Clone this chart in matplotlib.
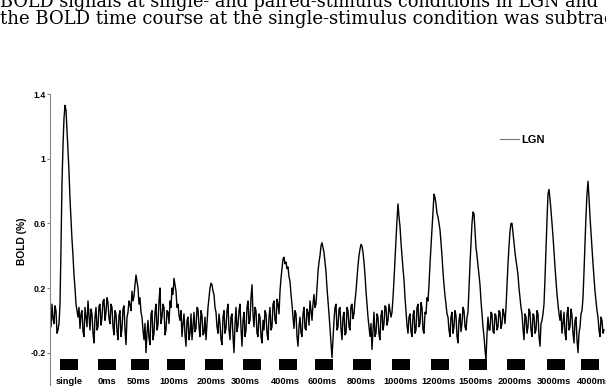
import numpy as np
import matplotlib
matplotlib.use("Agg")
import matplotlib.pyplot as plt

# page text above the figure (cut off in the scan)
line1 = "BOLD signals at single- and paired-stimulus conditions in LGN and"
line2 = "the BOLD time course at the single-stimulus condition was subtract"

# LGN time course, one value per pixel column of the original plot (BOLD %)
bold = [
    # single
    0.05, -0.04, 0.10, 0.01, -0.02, 0.09, 0.06, -0.08, -0.06, -0.02,
    0.10, 0.45, 0.85, 1.08, 1.25, 1.33, 1.30, 1.18, 1.05, 0.92,
    0.75, 0.62, 0.50, 0.40, 0.28, 0.20, 0.10, 0.06, 0.02, 0.08,
    # 0ms
    -0.05, 0.04, 0.06, -0.07, -0.10, 0.08, 0.02, -0.04, 0.12, 0.03,
    -0.06, 0.07, 0.04, -0.08, -0.14, 0.02, 0.08, -0.06, -0.04, 0.09,
    0.10, -0.03, 0.02, 0.12, 0.13, 0.00, 0.05, 0.14, 0.11, 0.01,
    -0.02, 0.10, 0.08, -0.04, -0.09, 0.06, 0.04, -0.07, -0.12, 0.03,
    0.06, -0.10, -0.05, 0.07, 0.09, -0.06, -0.15, 0.02, 0.05, 0.12,
    # 50ms
    0.10, 0.06, 0.18, 0.12, 0.15, 0.22, 0.28, 0.24, 0.20, 0.10,
    0.14, 0.05, 0.02, -0.06,
    -0.12, -0.02, -0.20, -0.08, 0.00, -0.11, -0.15, 0.04, 0.06, -0.12,
    -0.08, 0.05, 0.10, -0.06, -0.03, 0.12, 0.20, -0.02, 0.02, 0.10,
    0.08, -0.09, -0.06, 0.06, 0.05, -0.02, 0.12, 0.08,
    # 100ms
    0.20, 0.16, 0.26, 0.22, 0.18, 0.08, 0.10, 0.03,
    0.00, 0.06, -0.10, -0.02, 0.04, -0.09, -0.16, 0.00, 0.02, -0.12,
    -0.08, 0.04, -0.12, -0.04, 0.05, -0.07, -0.05, 0.08, 0.07, -0.04,
    -0.10, 0.06, 0.03, -0.09, -0.08, 0.02, -0.12, -0.02,
    # 200ms
    0.08, 0.14, 0.20, 0.23, 0.22, 0.18, 0.16, 0.08, 0.05, -0.04,
    -0.08, 0.04, -0.02, -0.12, -0.15, 0.02, 0.06, -0.08, -0.05, 0.06,
    0.10, -0.06, -0.12, 0.02, 0.04, -0.10, -0.20, -0.02, 0.08, -0.07,
    # 300ms
    -0.03, 0.06, 0.10, -0.05, -0.16, 0.00, 0.05, -0.10, -0.06, 0.08,
    0.12, -0.02, 0.00, 0.14, 0.22, 0.04, -0.04, 0.08, 0.06, -0.08,
    -0.10, 0.04, 0.02, -0.10, -0.14, 0.00, -0.06, 0.06, 0.04, -0.08,
    -0.12, 0.02, 0.08, -0.06, -0.04, 0.10, 0.12, 0.00, -0.02, 0.13,
    0.10, 0.04, 0.18, 0.26,
    # 400ms
    0.32, 0.38, 0.39, 0.35, 0.36, 0.32, 0.33, 0.27, 0.24, 0.16,
    0.10, 0.02, -0.05, 0.06, 0.04, -0.10, -0.16, -0.04,
    0.02, -0.08, -0.10, 0.04, 0.08, -0.05, -0.06, 0.07, 0.05, -0.03,
    0.12, 0.06, 0.00, 0.10, 0.16, 0.08, 0.10, 0.20,
    # 600ms
    0.30, 0.36, 0.40, 0.46, 0.48, 0.45, 0.42, 0.36, 0.30, 0.20,
    0.12, 0.04, -0.05, -0.14, -0.23, -0.12, 0.00, 0.08,
    0.10, -0.06, -0.04, 0.07, 0.08, -0.05, -0.12, 0.02, 0.05, -0.09,
    -0.08, 0.08, 0.06, -0.04, -0.06, 0.09, 0.10, 0.01, 0.04, 0.12,
    # 800ms
    0.18, 0.26, 0.34, 0.40, 0.44, 0.47, 0.46, 0.42, 0.36, 0.28,
    0.18, 0.10, 0.02, -0.04, -0.10, -0.02, -0.18, -0.06,
    0.05, -0.10, -0.08, 0.04, 0.02, -0.09, -0.12, 0.03, 0.06, -0.06,
    -0.02, 0.09, 0.08, -0.03, 0.00, 0.10, 0.06, 0.02,
    # 1000ms
    0.05, 0.14, 0.25, 0.38, 0.50, 0.62, 0.72, 0.64, 0.58, 0.48,
    0.40, 0.32, 0.25, 0.14, 0.05, -0.03, -0.08, 0.02,
    0.04, -0.07, -0.10, 0.03, 0.06, -0.08, -0.06, 0.08, 0.10, -0.04,
    -0.02, 0.11, 0.08, -0.06, -0.08, 0.05, 0.04, 0.14, 0.12, 0.22,
    # 1200ms
    0.35, 0.46, 0.58, 0.68, 0.78, 0.76, 0.72, 0.66, 0.64, 0.60,
    0.56, 0.48, 0.40, 0.30, 0.22, 0.15, 0.10, 0.04, 0.02, -0.06,
    -0.10, 0.02, 0.05, -0.08, -0.04, 0.06, 0.03, -0.10, -0.14, 0.00,
    0.04, -0.07, -0.02, 0.08, 0.06, -0.04, -0.06, 0.02,
    # 1500ms
    0.05, 0.20, 0.35, 0.48, 0.60, 0.67, 0.66, 0.55, 0.45, 0.40,
    0.34, 0.28, 0.22, 0.12, 0.04, -0.04,
    -0.10, -0.18, -0.25, -0.08, 0.02, -0.06, -0.06, 0.05, 0.04, -0.07,
    -0.08, 0.04, 0.03, -0.06, -0.04, 0.06, 0.05, -0.05, -0.02, 0.07,
    0.04, -0.02,
    # 2000ms
    0.08, 0.22, 0.35, 0.46, 0.55, 0.60, 0.60, 0.54, 0.48, 0.42,
    0.37, 0.33, 0.28, 0.20, 0.14, 0.08, 0.04, -0.05,
    -0.12, 0.04, 0.02, -0.08, -0.04, 0.07, 0.05, -0.06, -0.10, 0.04,
    0.03, -0.08, -0.06, 0.06, 0.04, -0.10, -0.16, -0.02, 0.00, 0.04,
    # 3000ms
    0.10, 0.26, 0.45, 0.62, 0.78, 0.81, 0.75, 0.68, 0.60, 0.52,
    0.42, 0.33, 0.24, 0.16, 0.10, 0.04, 0.00, 0.06,
    -0.08, -0.02, 0.05, -0.08, -0.12, 0.04, 0.08, -0.06, -0.04, 0.07,
    0.03, -0.08, -0.14, 0.00, 0.02, -0.12, -0.20, -0.08, -0.04, 0.04,
    0.06, 0.14,
    # 4000ms
    0.30, 0.48, 0.65, 0.78, 0.86, 0.76, 0.64, 0.54, 0.45, 0.35,
    0.26, 0.18, 0.12, 0.06, 0.02, -0.06,
    -0.10, 0.02, 0.00, -0.08, -0.06,
]
t = np.arange(len(bold))

# stimulus blocks (same x units) and their labels
conds = ["single", "0ms", "50ms", "100ms", "200ms", "300ms", "400ms", "600ms",
         "800ms", "1000ms", "1200ms", "1500ms", "2000ms", "3000ms", "4000ms"]
bar_mid = [19, 57, 90, 125.5, 164, 202, 238, 274, 312, 351, 390, 428, 465.5, 505.5, 540]
lab_mid = [19, 57, 89, 124, 161, 195, 235, 272, 311, 351, 389, 426, 465, 504, 544]

fig = plt.figure(figsize=(6.06, 3.87), dpi=100)
ax = fig.add_axes([50 / 606, 2 / 387, 556 / 606, 291 / 387])

ax.plot(t, bold, color="black", lw=1.0, label="LGN")

for m in bar_mid:
    ax.fill_between([m - 9, m + 9], -0.309, -0.240, color="black", lw=0)
for m, s in zip(lab_mid, conds):
    ax.text(m, -0.377, s, ha="center", va="center", fontsize=6.7,
            fontweight="bold", family="Liberation Sans", clip_on=False)

ax.set_xlim(0, 556)
ax.set_ylim(-0.4, 1.4)
ax.set_yticks([-0.2, 0.2, 0.6, 1, 1.4])
ax.set_yticklabels(["-0.2", "0.2", "0.6", "1", "1.4"], fontsize=6.2,
                   fontweight="bold", family="Liberation Sans")
ax.set_xticks([])
for side in ["top", "right", "bottom"]:
    ax.spines[side].set_visible(False)
ax.spines["left"].set_color("#888888")
ax.spines["left"].set_linewidth(0.8)
ax.tick_params(axis="y", direction="out", length=2, width=0.8, color="#888888", pad=1)

fig.text(22 / 606, 1 - 241 / 387, "BOLD (%)", rotation=90, ha="center", va="center",
         fontsize=7.4, fontweight="bold", family="Liberation Sans")

leg = ax.legend(loc="center left", bbox_to_anchor=(450 / 556, 245 / 291), frameon=False,
                borderpad=0, borderaxespad=0, handlelength=1.7, handletextpad=0.2,
                prop={"family": "Liberation Sans", "weight": "bold", "size": 8})
leg.get_lines()[0].set_color("#777777")
leg.get_lines()[0].set_linewidth(0.8)

# scanned page text: wide serif, scaled to span the page width
r = fig.canvas.get_renderer()
for txt, base, width in [(line1, 7, 600), (line2, 24, 618)]:
    tt = fig.text(0, 1 - base / 387, txt, va="baseline", ha="left", fontsize=11,
                  family="DejaVu Serif")
    w = tt.get_window_extent(renderer=r).width
    tt.set_fontsize(11 * width / w)

fig.savefig("out.png", dpi=100)
